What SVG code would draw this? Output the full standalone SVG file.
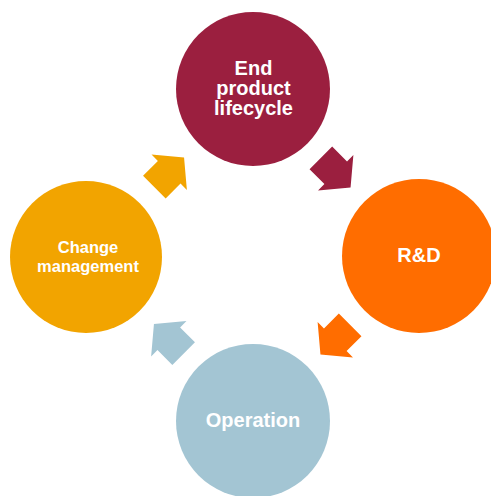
<svg xmlns="http://www.w3.org/2000/svg" width="491" height="496" viewBox="0 0 491 496">
<defs>
<style>
.lbl{font-family:"Liberation Sans",Arial,sans-serif;font-weight:bold;fill:#ffffff;text-anchor:middle}
.big{font-size:20px}
.small{font-size:16.5px}
</style>
<polygon id="arr" points="-20,-16 1,-16 1,-25 22,0 1,25 1,16 -20,16"/>
</defs>
<rect width="491" height="496" fill="#ffffff"/>
<g id="connectors">
<use href="#arr" fill="#F2A400" transform="translate(168.5,173) rotate(-45)"/>
<use href="#arr" fill="#9B1F3F" transform="translate(335,172) rotate(45)"/>
<use href="#arr" fill="#FF6D00" transform="translate(336,339) rotate(135)"/>
<use href="#arr" fill="#A3C5D3" transform="translate(169.5,339.5) rotate(-135)"/>
</g>
<g id="end-product">
<circle cx="253" cy="89" r="77" fill="#9B1F3F"/>
<text class="lbl big" x="253.5" y="75">End</text>
<text class="lbl big" x="253.5" y="95">product</text>
<text class="lbl big" x="253.5" y="115">lifecycle</text>
</g>
<g id="rd">
<circle cx="419" cy="256" r="77" fill="#FF6D00"/>
<text class="lbl big" x="419" y="262">R&amp;D</text>
</g>
<g id="operation">
<circle cx="253" cy="421" r="77" fill="#A3C5D3"/>
<text class="lbl big" x="253" y="427">Operation</text>
</g>
<g id="change">
<circle cx="86" cy="257" r="76" fill="#F2A400"/>
<text class="lbl small" x="88" y="253">Change</text>
<text class="lbl small" x="88" y="272">management</text>
</g>
</svg>
